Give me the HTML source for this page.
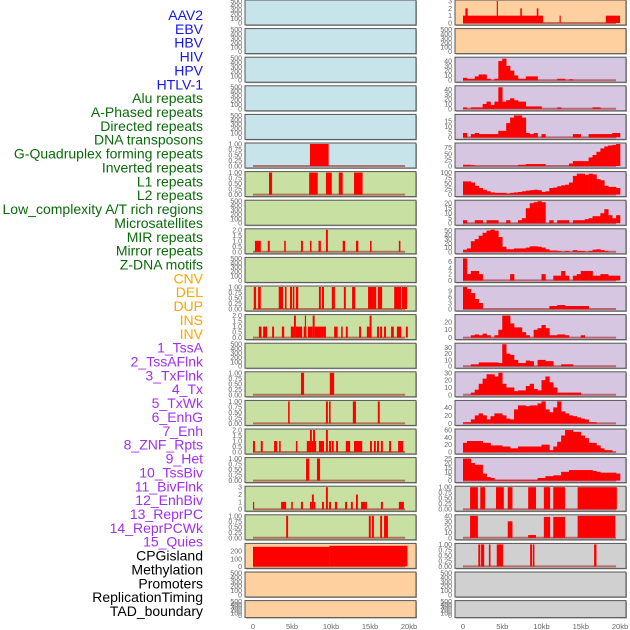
<!DOCTYPE html>
<html><head><meta charset="utf-8"><style>
html,body{margin:0;padding:0;background:#fff;width:630px;height:630px;overflow:hidden}
svg{display:block;font-family:"Liberation Sans",sans-serif}
</style></head><body>
<svg id="chart" width="630" height="630" viewBox="0 0 630 630" xmlns="http://www.w3.org/2000/svg">
<g id="labels"></g>
<g id="panels"></g>
<g id="xaxis"></g>
</svg>
<script>
const featureLabels=["AAV2","EBV","HBV","HIV","HPV","HTLV-1","Alu repeats","A-Phased repeats","Directed repeats","DNA transposons","G-Quadruplex forming repeats","Inverted repeats","L1 repeats","L2 repeats","Low_complexity A/T rich regions","Microsatellites","MIR repeats","Mirror repeats","Z-DNA motifs","CNV","DEL","DUP","INS","INV","1_TssA","2_TssAFlnk","3_TxFlnk","4_Tx","5_TxWk","6_EnhG","7_Enh","8_ZNF_Rpts","9_Het","10_TssBiv","11_BivFlnk","12_EnhBiv","13_ReprPC","14_ReprPCWk","15_Quies","CPGisland","Methylation","Promoters","ReplicationTiming","TAD_boundary"];
const labelGroups=[6,13,5,15,5];
const xTickValues=[0,5,10,15,20];
const xTickLabels=["0","5kb","10kb","15kb","20kb"];

// Left column interval data [startKb, endKb, value]
const L5=[[7.3,9.7,1]];
const L6=[[2.05,2.45,1],[7.2,8.3,1],[9.35,10.1,1],[11,11.5,1],[12.95,14.05,1]];
const L8=[[0.25,1.0,1],[1.9,2.15,1],[4,4.2,1],[6.15,6.4,1],[7.3,7.5,1],[8.4,8.7,1],[9.35,9.6,2],[11.5,11.8,1],[13.2,13.5,1],[15,15.2,1],[18.7,18.9,1]];
const L10=[[0.1,0.4,1],[0.65,1.0,1],[3.3,3.85,1],[4.1,4.3,1],[4.75,5,1],[5.1,5.3,1],[5.5,5.8,1],[8.45,8.7,1],[8.85,9.1,1],[10.1,10.5,1],[11.65,11.9,1],[12.7,13.1,1],[14.75,15.8,1],[16,16.55,1],[18.1,19,1],[19.1,19.75,1]];
const L11=[[0.75,1.1,1],[1.3,1.8,1],[2.45,2.7,1],[3.7,4,1],[4.85,5.25,1],[5.25,5.5,2],[5.5,6.3,1],[6.5,6.85,1],[6.65,6.8,2],[7.05,7.65,1],[7.65,7.9,2],[7.9,9.35,1],[10.4,10.85,1],[11.3,11.5,1],[11.9,12.15,1],[13.6,13.85,1],[14.6,14.95,1],[14.95,15.2,2],[15.9,16.15,1],[16.3,16.55,1],[16.8,17.05,1],[17.7,18.05,1],[18.45,19,1],[19.6,19.85,1]];
const L13=[[6.15,6.55,1],[9.85,10.4,1]];
const L14=[[4.5,4.7,1],[9.35,9.6,1],[9.75,9.95,1],[12.8,13.2,1],[16,16.25,1]];
const L15=[[0,0.25,1],[1,1.25,1],[2.7,3.1,1],[3.35,3.55,1],[5.5,5.7,1],[6.9,7.3,1],[7.3,7.55,2],[7.55,7.7,1],[7.7,7.95,2],[7.95,8.1,1],[8.45,9.1,1],[9.35,9.6,2],[9.75,10,1],[10.1,10.35,1],[10.65,10.9,1],[11.9,12.45,1],[12.95,14,1],[15,15.25,1],[15.5,15.75,1],[15.9,16.15,1],[16.4,16.65,1],[17.45,17.7,1],[18.6,19.25,1]];
const L16=[[6.8,7.2,1],[8.2,8.6,1]];
const L17=[[0,0.15,1],[3.6,4.25,1],[4.9,5.1,1],[6.15,6.4,1],[7.3,7.55,1],[7.55,7.8,2],[7.8,8.0,1],[8.85,9.1,1],[9.35,9.6,3],[9.75,10,1],[10.5,10.8,1],[11.8,12.05,1],[12.55,12.8,1],[13.2,13.45,2],[13.85,14.6,1],[16.4,16.65,1],[18.7,19.35,1]];
const L18=[[4.25,4.5,1],[14.85,15.1,1],[15.25,15.5,1],[16.3,16.55,1],[16.8,17.3,1]];
const L19=[[0,9.8,258],[9.8,19.8,272]];

// Right column: binned values (0.5kb bins) or intervals
const R0=[[0,10.2,1],[0.3,0.6,2],[4.3,4.45,3],[7.3,7.5,2],[9.4,9.6,2],[12.3,12.45,1],[18.2,20,1]];
const R2=[5,3,3,8,12,12,3,0,3,40,45,30,20,10,3,3,8,8,8,0,0,0,0,0,3,3,0,2,0,0,0,0,0,0,0,0,0,0,0,0];
const R3=[3,0,3,3,3,10,15,8,15,45,15,18,22,18,15,15,5,5,5,5,0,0,0,0,3,0,0,0,0,0,0,0,0,3,3,0,0,0,0,0];
const R4=[4,0,3,4,3,3,3,3,3,6,6,13,18,20,20,18,4,3,4,0,3,0,0,0,0,0,0,0,3,3,0,0,3,3,3,3,3,3,4,4];
const R5=[5,5,3,0,0,0,0,0,0,0,0,0,0,0,5,5,8,8,8,8,8,0,0,0,0,0,0,10,20,20,20,20,35,45,58,72,80,84,86,90];
const R6=[60,60,55,40,30,22,15,10,8,8,8,5,8,10,12,15,18,20,22,20,12,15,30,32,38,42,45,55,85,95,95,90,95,92,70,65,40,35,35,30];
const R7=[3,0,0,3,3,0,3,3,3,0,0,3,0,0,3,5,15,20,21,22,21,0,3,0,3,3,3,0,3,3,3,4,5,7,7,10,14,8,5,8];
const R8=[5,8,25,30,38,45,50,52,50,35,12,6,6,8,8,8,10,13,13,12,10,6,3,3,2,0,2,0,4,2,2,0,2,5,6,4,2,0,0,0];
const R9=[7,2,3,3,2,0,0,0,0,0,0,0,2,0,0,0,0,0,0,0,2,0,0,1.5,1.5,3,1.5,0,1.5,2,3,3,3,1.5,1.5,2,2,1.5,1.5,1.5];
const R10=[11,10,8,5,3,0,0,0,0,0,0,0,0,0,0,0,0,0,0,0,0,0,1.5,1.5,2,2,1.5,1.5,1.5,1.5,1.5,1.5,0,0,0,0,0,0,0,0];
const R11=[0,0,3,4,3,5,3,0,3,10,28,28,18,13,13,7,3,0,10,12,16,12,3,3,4,4,3,0,0,0,3,0,0,0,0,0,0,0,0,0];
const R12=[0,0,3,3,6,6,6,6,6,5,35,20,18,10,5,5,9,8,0,10,10,8,8,0,0,3,3,3,0,0,0,0,0,0,0,0,0,0,0,0];
const R13=[0,0,3,7,15,22,28,28,25,30,15,10,10,5,6,6,12,15,8,6,20,25,17,10,3,3,3,3,3,3,0,0,0,0,0,0,0,0,0,0];
const R14=[3,3,10,20,25,20,10,18,25,25,20,12,10,35,45,45,43,45,45,50,55,35,28,40,55,30,25,20,18,15,12,10,3,3,0,0,0,0,0,0];
const R15=[25,30,30,30,30,25,25,18,18,18,15,15,10,10,15,15,15,15,15,15,20,20,5,15,28,45,60,60,55,55,45,38,25,25,18,10,5,5,0,0];
const R16=[25,25,20,18,18,8,4,3,1,1,1,1,1,1,1,1,1,1,1,3,3,5,5,6,6,10,10,12,12,12,12,12,12,11,10,9,9,9,9,8];
const R17=[[0.9,1.9,1],[2.2,2.8,1],[4.2,5.2,1],[5.7,6.3,1],[8.3,9.3,1],[10.3,11.1,1],[11.5,13,1],[14.6,19.6,1]];
const R18=[[0.9,1.9,40],[5.7,6.3,30],[8.3,9.3,5],[10.3,11.1,38],[11.5,13,38],[14.6,19.4,40]];
const R19=[[1.95,2.2,1],[2.3,2.7,1],[3.3,3.5,1],[4.3,5.1,1],[8.55,8.8,1],[8.9,9.1,1],[16.7,17,1]];

const EMPTY=["500","400","300","200","100","0"];
const T1=["1.00","0.75","0.50","0.25","0.00"], T2=["2.0","1.5","1.0","0.5","0.0"];
const BLUE="#c8e4eb",GREEN="#c8e0a2",ORANGE="#fecf9f",PURPLE="#d6c6e2",GREY="#d0d0d0";
function tk(arr){return arr.map(Number);}
const leftPanels=[
 {bg:BLUE},{bg:BLUE},{bg:BLUE},{bg:BLUE},{bg:BLUE},
 {bg:BLUE,ymax:1,ticks:T1,iv:L5},
 {bg:GREEN,ymax:1,ticks:T1,iv:L6},{bg:GREEN},
 {bg:GREEN,ymax:2,ticks:T2,iv:L8},{bg:GREEN},
 {bg:GREEN,ymax:1,ticks:T1,iv:L10},
 {bg:GREEN,ymax:2,ticks:T2,iv:L11},{bg:GREEN},
 {bg:GREEN,ymax:1,ticks:T1,iv:L13},
 {bg:GREEN,ymax:1,ticks:T1,iv:L14},
 {bg:GREEN,ymax:2,ticks:T2,iv:L15},
 {bg:GREEN,ymax:1,ticks:T1,iv:L16},
 {bg:GREEN,ymax:3,ticks:["3","2","1","0"],iv:L17},
 {bg:GREEN,ymax:1,ticks:T1,iv:L18},
 {bg:ORANGE,ymax:290,ticks:["200","100","0"],iv:L19},
 {bg:ORANGE},{bg:ORANGE}];
const rightPanels=[
 {bg:ORANGE,ymax:3,ticks:["3","2","1","0"],iv:R0},{bg:ORANGE},
 {bg:PURPLE,ymax:46,ticks:["40","30","20","10","0"],bins:R2},
 {bg:PURPLE,ymax:46,ticks:["40","30","20","10","0"],bins:R3},
 {bg:PURPLE,ymax:20,ticks:["15","10","5","0"],bins:R4},
 {bg:PURPLE,ymax:90,ticks:["75","50","25","0"],bins:R5},
 {bg:PURPLE,ymax:100,ticks:["100","75","50","25","0"],bins:R6},
 {bg:PURPLE,ymax:22,ticks:["20","15","10","5","0"],bins:R7},
 {bg:PURPLE,ymax:52,ticks:["50","40","30","20","10","0"],bins:R8},
 {bg:PURPLE,ymax:7,ticks:["6","4","2","0"],bins:R9},
 {bg:PURPLE,ymax:11,ticks:["9","6","3","0"],bins:R10},
 {bg:PURPLE,ymax:28,ticks:["20","10","0"],bins:R11},
 {bg:PURPLE,ymax:35,ticks:["30","20","10","0"],bins:R12},
 {bg:PURPLE,ymax:30,ticks:["30","20","10","0"],bins:R13},
 {bg:PURPLE,ymax:55,ticks:["40","20","0"],bins:R14},
 {bg:PURPLE,ymax:60,ticks:["60","40","20","0"],bins:R15},
 {bg:PURPLE,ymax:25,ticks:["25","20","15","10","5","0"],bins:R16},
 {bg:GREY,ymax:1,ticks:T1,iv:R17},
 {bg:GREY,ymax:40,ticks:["40","30","20","10","0"],iv:R18},
 {bg:GREY,ymax:1,ticks:T1,iv:R19},
 {bg:GREY},{bg:GREY}];

const NS="http://www.w3.org/2000/svg";
function mk(tag,attrs,parent){const e=document.createElementNS(NS,tag);for(const k in attrs)e.setAttribute(k,attrs[k]);parent.appendChild(e);return e;}
const labG=document.getElementById('labels');
const colors=["#1515f0","#0a6a0a","#ffa500","#a030f0","#000000"];
let gi=0,cnt=0;
featureLabels.forEach((t,i)=>{
 while(cnt>=labelGroups[gi]){cnt=0;gi++;}
 cnt++;
 const y=15+i*(596/43);
 const e=mk('text',{x:203,y:y+5,'text-anchor':'end','font-size':14,fill:colors[gi]},labG);
 
 
 e.textContent=t;
});
const panG=document.getElementById('panels');
function drawCol(panels,px,x0,x20,side){
 const xs=kb=>x0+(x20-x0)*kb/20;
 panels.forEach((p,i)=>{
  const top=i<21?i*28.6:600.6, h=i<21?25:17;
  const g=mk('g',{},panG);
  
  
  mk('rect',{x:px+1,y:top+1,width:171,height:h,fill:'#aaa'},g);
  mk('rect',{x:px,y:top,width:171,height:h,fill:p.bg,stroke:'#555','stroke-width':1},g);
  const y0=top+h-2, y1=top+1;
  const ymax=p.ymax||500;
  const ys=v=>y0-(y0-y1)*v/ymax;
  const ticks=p.ticks||EMPTY;
  ticks.forEach(s=>{
   const v=Number(s);
   const t=mk('text',{x:px-3,y:ys(v)+2.5,'text-anchor':'end','font-size':7,fill:'#666'},g);
   
   
   t.textContent=s;
  });
  if(p.ymax){
   mk('line',{x1:xs(0),x2:xs(19.5),y1:y0,y2:y0,stroke:'rgba(160,40,40,0.6)','stroke-width':2},g);
  }
  if(p.iv){p.iv.forEach(d=>{
   const r=mk('rect',{x:xs(d[0]),y:ys(d[2]),width:Math.max(1,xs(d[1])-xs(d[0])),height:y0-ys(d[2]),fill:'#ff0000'},g);
   
   
  });}
  if(p.bins){p.bins.forEach((v,j)=>{
   if(v<=0)return;
   const r=mk('rect',{x:xs(j*0.5),y:ys(v),width:xs((j+1)*0.5)-xs(j*0.5)+0.3,height:y0-ys(v),fill:'#ff0000'},g);
   
   
  });}
 });
 const ax=document.getElementById('xaxis');
 xTickValues.forEach((v,k)=>{
  const t=mk('text',{x:xs(v),y:629,'text-anchor':'middle','font-size':7.5,fill:'#666'},ax);
  
  
  t.textContent=xTickLabels[k];
 });
}
drawCol(leftPanels,245,253,409,'left');
drawCol(rightPanels,455,463,620,'right');
</script>
</body></html>
